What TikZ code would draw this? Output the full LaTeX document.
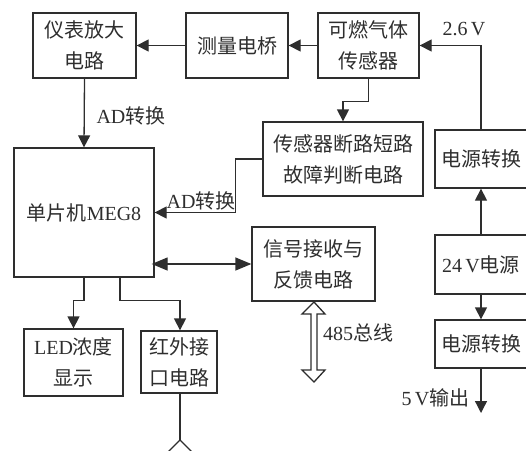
\documentclass[tikz,border=0pt]{standalone}
\usepackage{fontspec}
\setmainfont{Liberation Serif}
\newfontfamily\cjk{Noto Sans CJK SC}
\newcommand{\zh}[1]{{\cjk #1}}
\usetikzlibrary{arrows.meta}
\definecolor{ink}{HTML}{2E2E2E}
\tikzset{
  box/.style={draw=ink,line width=1.3pt,text=ink,inner sep=0pt,align=center,font=\fontsize{20}{31}\selectfont},
  conn/.style={draw=ink,line width=1.3pt},
  arr/.style={conn,-{Triangle[length=12pt,width=12pt]}},
  darr/.style={conn,{Triangle[length=16pt,width=13pt]}-{Triangle[length=16pt,width=13pt]}},
  lab/.style={text=ink,inner sep=0pt,font=\fontsize{20}{24}\selectfont},
  bus/.style={draw=ink,line width=1.3pt,fill=white,line join=miter}
}
\begin{document}
\begin{tikzpicture}[x=1pt,y=-1pt]
\useasboundingbox (0,0) rectangle (526,450);
\clip (0,0) rectangle (526,450);
\node[box,minimum width=103pt,minimum height=65pt] (amp) at (84.5,45.5) {\zh{仪表放大}\\\zh{电路}};
\node[box,minimum width=102pt,minimum height=65pt] (bridge) at (237,45.5) {\zh{测量电桥}};
\node[box,minimum width=101pt,minimum height=65pt] (sensor) at (368.5,45.5) {\zh{可燃气体}\\\zh{传感器}};
\node[box,minimum width=160pt,minimum height=74pt] (fault) at (343,159) {\zh{传感器断路短路}\\\zh{故障判断电路}};
\node[box,minimum width=140pt,minimum height=129pt] (mcu) at (84,212.5) {\zh{单片机}MEG8};
\node[box,minimum width=123pt,minimum height=74pt] (signal) at (313.5,264) {\zh{信号接收与}\\\zh{反馈电路}};
\node[box,minimum width=92pt,minimum height=58pt] (convA) at (481,159) {\zh{电源转换}};
\node[box,minimum width=92pt,minimum height=59pt] (power) at (481,264.5) {24\,V\zh{电源}};
\node[box,minimum width=92pt,minimum height=48pt] (convB) at (481,344) {\zh{电源转换}};
\node[box,minimum width=99pt,minimum height=67pt] (led) at (73.5,362.5) {LED\zh{浓度}\\\zh{显示}};
\node[box,minimum width=76pt,minimum height=62pt] (ir) at (179,362) {\zh{红外接}\\\zh{口电路}};

\coordinate (out5) at (481,413);
\coordinate (antenna) at (180,440);
\coordinate (antL) at (168,452);
\coordinate (antR) at (192,452);

\draw[arr] (sensor.west) -- (bridge.east);
\draw[arr] (bridge.west) -- (amp.east);
\draw[arr] (amp.south) -- (mcu.north);
\draw[arr] (sensor.south) -- ++(0,23) -| (fault.north);
\draw[arr] (fault.west) -- ++(-27,0) |- (mcu.east);
\draw[darr] (signal.west) -- ([xshift=-3pt]mcu.east |- signal.west);
\draw[arr] (mcu.south) -- ++(0,23) -| (led.north);
\draw[arr] ([xshift=36pt]mcu.south) -- ++(0,23) -| ([xshift=1pt]ir.north);
\draw[arr] (convA.north) |- (sensor.east);
\draw[arr] (power.north) -- (convA.south);
\draw[arr] (power.south) -- (convB.north);
\draw[arr] (convB.south) -- (out5);
\draw[conn] ([xshift=1pt]ir.south) -- (antenna);
\draw[conn] (antL) -- (antenna) -- (antR);

\draw[bus] (314,302) -- (325,314) -- (317,314) -- (317,370) -- (325,370) -- (314,382) -- (302,370) -- (311,370) -- (311,314) -- (302,314) -- cycle;

\node[lab] (t1) at (131,116) {AD\zh{转换}};
\node[lab] (t2) at (201,201) {AD\zh{转换}};
\node[lab] (t3) at (358,333) {485\zh{总线}};
\node[lab] (t4) at (435.5,398) {5\,V\zh{输出}};
\node[lab] (t5) at (464,29) {2.6\,V};
\end{tikzpicture}
\end{document}
